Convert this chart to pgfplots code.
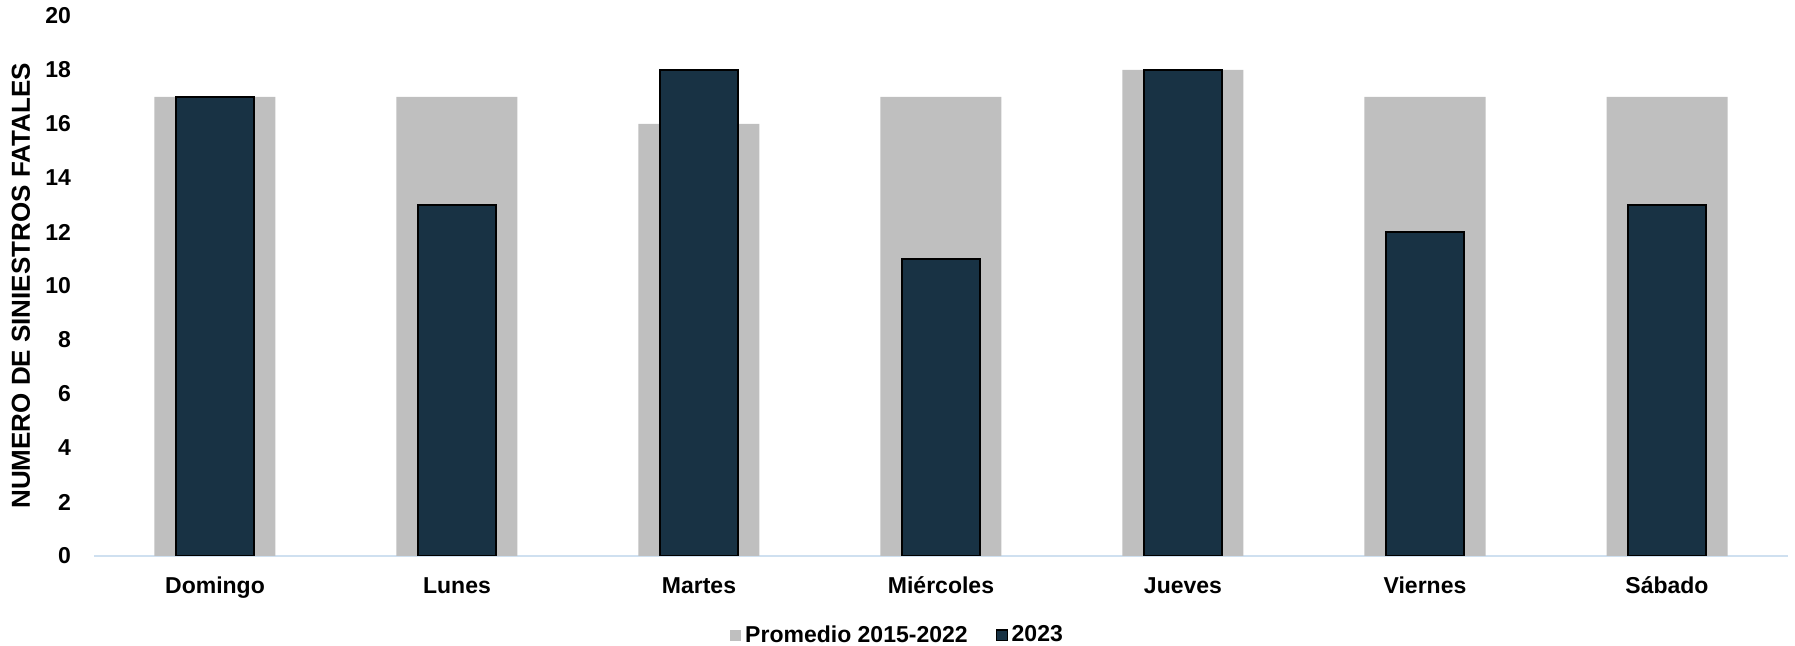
\documentclass[border=0pt]{standalone}
\usepackage{pgfplots}
\pgfplotsset{compat=1.18}
\usepackage{fontspec}
\setmainfont{Liberation Sans}
\definecolor{avg}{HTML}{BFBFBF}
\definecolor{cur}{HTML}{183244}
\definecolor{axl}{HTML}{CFE0F0}
\begin{document}
\begin{tikzpicture}
\begin{axis}[
  at={(0,0)}, anchor=south west,
  scale only axis, width=847pt, height=270pt,
  xmin=-0.5, xmax=6.5, ymin=0, ymax=20,
  ytick={0,2,...,20},
  xtick={0,1,2,3,4,5,6},
  xticklabels={Domingo,Lunes,Martes,Miércoles,Jueves,Viernes,Sábado},
  axis y line*=left,
  y axis line style={draw=none},
  axis x line*=bottom,
  x axis line style={axl, line width=0.8pt, -},
  major tick length=0pt,
  ticklabel style={font=\fontsize{11.5}{13}\selectfont\bfseries},
  /pgf/number format/assume math mode=true,
  xticklabel style={yshift=-7pt, text height=8.3pt, text depth=2.5pt},
  yticklabel style={xshift=-8pt},
  ylabel={NUMERO DE SINIESTROS FATALES},
  every axis y label/.style={at={(axis description cs:0,0.5)}, xshift=-36.5pt, rotate=90, anchor=center,
    font=\fontsize{13}{15}\selectfont\bfseries},
  legend style={at={(0.475,-0.147)}, anchor=center, draw=none, fill=none,
    font=\fontsize{11.5}{13}\selectfont\bfseries, legend columns=2,
    /tikz/every even column/.append style={column sep=12pt}},
  legend cell align=left,
]
\addplot[ybar, bar shift=0pt, bar width=0.5, fill=avg, draw=none,
  legend image code/.code={\fill[avg] (0pt,-2.7pt) rectangle (5.4pt,2.7pt);}]
  coordinates {(0,17) (1,17) (2,16) (3,17) (4,18) (5,17) (6,17)};
\addlegendentry{Promedio 2015-2022}
\addplot[ybar, bar shift=0pt, bar width=0.32, fill=cur, draw=black, line width=0.8pt,
  legend image code/.code={\draw[fill=cur, draw=black, line width=0.6pt] (0pt,-2.7pt) rectangle (5.4pt,2.7pt);}]
  coordinates {(0,17) (1,13) (2,18) (3,11) (4,18) (5,12) (6,13)};
\addlegendentry{2023}
\end{axis}
\pgfresetboundingbox
\path (-47pt,-45pt) rectangle (850.5pt,278pt);
\end{tikzpicture}
\end{document}
